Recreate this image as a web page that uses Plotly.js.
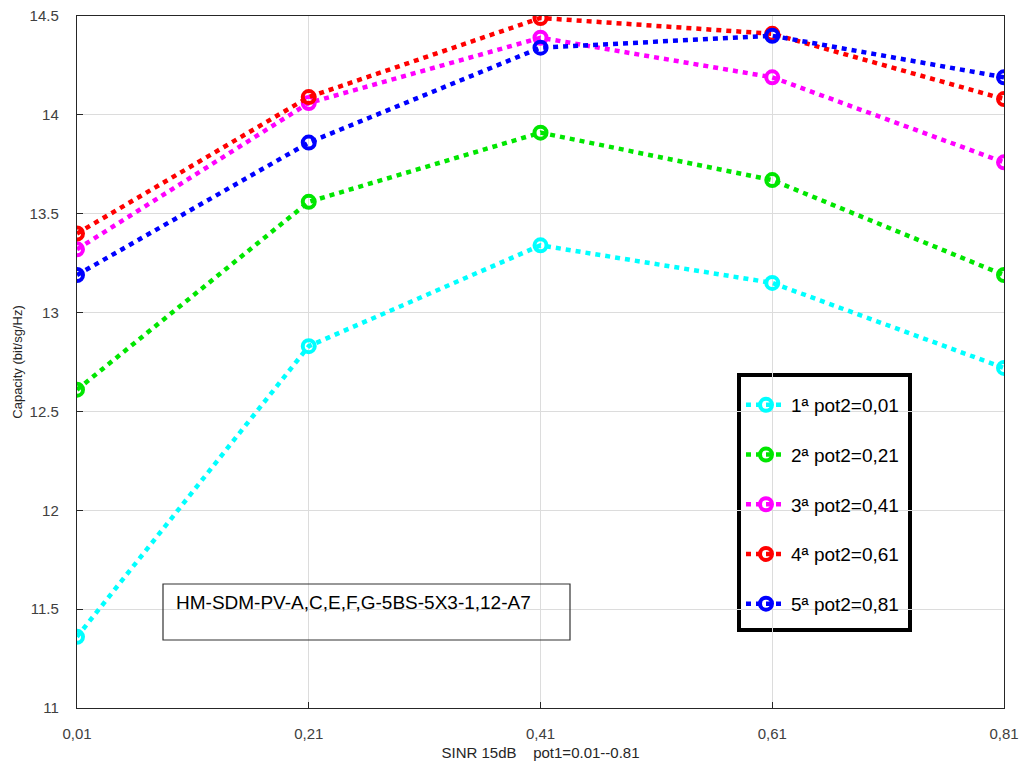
<!DOCTYPE html>
<html><head><meta charset="utf-8">
<script src="https://cdn.plot.ly/plotly-3.0.1.min.js"></script>
<style>html,body{margin:0;padding:0;background:#fff}#chart{width:1019px;height:762px}</style>
</head><body><div id="chart"></div>
<script>
const xValues = [0.01, 0.21, 0.41, 0.61, 0.81];
const xTickLabels = ["0,01", "0,21", "0,41", "0,61", "0,81"];
const yTickValues = [11, 11.5, 12, 12.5, 13, 13.5, 14, 14.5];
const seriesNames = ["1ª pot2=0,01", "2ª pot2=0,21", "3ª pot2=0,41", "4ª pot2=0,61", "5ª pot2=0,81"];
const seriesColors = ["#00ffff", "#00e600", "#ff00ff", "#ff0000", "#0000ff"];
const s1 = [11.36, 12.83, 13.34, 13.15, 12.72];
const s2 = [12.61, 13.56, 13.91, 13.67, 13.19];
const s3 = [13.32, 14.06, 14.39, 14.19, 13.76];
const s4 = [13.40, 14.09, 14.49, 14.41, 14.08];
const s5 = [13.19, 13.86, 14.34, 14.40, 14.19];
const allSeries = [s1, s2, s3, s4, s5];
const boxText = "HM-SDM-PV-A,C,E,F,G-5BS-5X3-1,12-A7";

const traces = allSeries.map((ys, i) => ({
  x: xValues, y: ys, name: seriesNames[i], type: 'scatter', mode: 'lines+markers',
  legendgroup: 'g' + i,
  line: {color: seriesColors[i], width: 4.5, dash: '5px,5px'},
  marker: {symbol: 'circle-open', size: 12, color: seriesColors[i], line: {width: 4, color: seriesColors[i]}}
}));

const px = v => (v - 77) / 927;
const py = v => (708 - v) / 692;

const layout = {
  width: 1019, height: 762,
  margin: {l: 77, r: 15, t: 16, b: 54},
  paper_bgcolor: '#ffffff', plot_bgcolor: '#ffffff',
  font: {family: 'Liberation Sans, Arial, sans-serif', color: '#262626'},
  showlegend: true,
  legend: {
    x: px(741), y: py(386), xanchor: 'left', yanchor: 'top',
    bgcolor: 'rgba(255,255,255,0)', borderwidth: 0,
    font: {size: 19, color: '#000000', family: 'Liberation Sans, Arial, sans-serif'},
    traceorder: 'grouped', tracegroupgap: 22, itemwidth: 40
  },
  xaxis: {
    range: [0.01, 0.81], tickmode: 'array', tickvals: xValues, ticktext: xTickLabels,
    showgrid: true, gridcolor: '#dcdcdc', gridwidth: 1, zeroline: false,
    showline: true, linecolor: '#262626', linewidth: 1.2, mirror: true,
    ticks: 'inside', ticklen: 6, tickcolor: '#262626', ticklabelstandoff: 12,
    tickfont: {size: 15, family: 'Liberation Sans Narrow, Liberation Sans, Arial, sans-serif', color: '#404040'},
    title: {text: 'SINR 15dB    pot1=0.01--0.81', font: {size: 15, family: 'Liberation Sans Narrow, Liberation Sans, sans-serif', color: '#262626'}, standoff: 6}
  },
  yaxis: {
    range: [11, 14.5], tickmode: 'array', tickvals: yTickValues,
    ticktext: yTickValues.map(v => String(v)),
    showgrid: true, gridcolor: '#dcdcdc', gridwidth: 1, zeroline: false,
    showline: true, linecolor: '#262626', linewidth: 1.2, mirror: true,
    ticks: 'inside', ticklen: 6, tickcolor: '#262626', ticklabelstandoff: 14,
    tickfont: {size: 15, color: '#404040'},
    title: {text: 'Capacity (bit/sg/Hz)', font: {size: 13, color: '#262626'}, standoff: 4}
  },
  shapes: [{
    type: 'rect', xref: 'paper', yref: 'paper',
    x0: px(163), x1: px(570), y0: py(640), y1: py(584),
    line: {color: '#333333', width: 1.2}, fillcolor: 'rgba(255,255,255,0)'
  }, {
    type: 'rect', xref: 'paper', yref: 'paper', layer: 'below',
    x0: px(739), x1: px(910), y0: py(630), y1: py(375),
    line: {color: '#000000', width: 4}, fillcolor: '#ffffff'
  }],
  annotations: [{
    xref: 'paper', yref: 'paper', x: px(174), y: py(590),
    xanchor: 'left', yanchor: 'top', showarrow: false, text: boxText,
    font: {size: 19, color: '#000000', family: 'Liberation Sans, Arial, sans-serif'}
  }]
};

Plotly.newPlot('chart', traces, layout, {displayModeBar: false, staticPlot: true});
</script></body></html>
